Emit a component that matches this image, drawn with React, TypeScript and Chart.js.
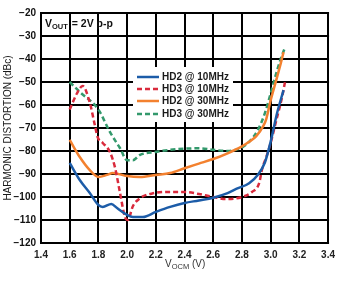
import React, { useEffect, useRef } from "react";
import { Chart, registerables } from "chart.js";

Chart.register(...registerables);

const xTickStep = 0.2;
const yTickStep = 10;

const seriesNames = ["HD2 @ 10MHz", "HD3 @ 10MHz", "HD2 @ 30MHz", "HD3 @ 30MHz"];

const hd2_10_x = [1.6, 1.67, 1.74, 1.8, 1.83, 1.89, 1.93, 2.0, 2.04, 2.11, 2.2, 2.3, 2.4, 2.5, 2.6, 2.7, 2.76, 2.85, 2.91, 2.96, 3.0, 3.045, 3.09];
const hd2_10_y = [-85.2, -92.6, -98.3, -103.5, -104.3, -103, -104.8, -107.8, -108.7, -108.7, -106.5, -104.3, -102.6, -101.5, -100.3, -98.3, -96.5, -94, -90.4, -85, -76, -63.5, -53.5];

const hd3_10_x = [1.6, 1.65, 1.69, 1.74, 1.775, 1.795, 1.83, 1.88, 1.915, 1.95, 1.985, 2.005, 2.04, 2.09, 2.18, 2.3, 2.4, 2.5, 2.6, 2.69, 2.8, 2.87, 2.92, 2.94, 2.97, 3.0, 3.04, 3.08, 3.1];
const hd3_10_y = [-62, -55, -51.7, -59, -68.7, -74, -76.5, -80.4, -87, -98, -108.7, -110, -104, -100.5, -98.4, -97.8, -97.8, -98.7, -100, -100.9, -100, -97.8, -94, -88, -82.6, -76.5, -66.5, -56.5, -50];

const hd2_30_x = [1.6, 1.67, 1.74, 1.8, 1.86, 1.9, 2.0, 2.09, 2.2, 2.3, 2.4, 2.5, 2.6, 2.7, 2.8, 2.85, 2.9, 2.95, 2.97, 3.0, 3.04, 3.07, 3.09];
const hd2_30_y = [-75.2, -82.6, -88.3, -91.3, -90.4, -89.6, -90.9, -91.3, -90.4, -89.6, -87.5, -85.5, -83.5, -81, -78, -76, -73.5, -69, -66, -58, -49, -42, -37];

const hd3_30_x = [1.6, 1.67, 1.8, 1.88, 1.95, 2.0, 2.04, 2.09, 2.2, 2.3, 2.4, 2.5, 2.6, 2.7, 2.8, 2.85, 2.91, 2.96, 3.0, 3.04, 3.07, 3.1];
const hd3_30_y = [-50, -54.3, -62, -71.7, -78.7, -84, -84, -81.7, -80.4, -79.5, -79, -78.8, -79.5, -80, -78.5, -76, -71, -63.5, -55, -46, -40, -35];

const colors = ["#1c5ca8", "#d92a3c", "#f3812f", "#33996c"];
const dashes: number[][] = [[], [5, 3], [], [5, 3]];

function pts(xs: number[], ys: number[]) {
  return xs.map((x, i) => ({ x, y: ys[i] }));
}

const gridPlugin = {
  id: "gridlines",
  beforeDatasetsDraw(chart: any) {
    const ctx = chart.ctx as CanvasRenderingContext2D;
    const { left, right, top, bottom } = chart.chartArea;
    const xs = chart.scales.x;
    const ys = chart.scales.y;
    ctx.save();
    ctx.fillStyle = "#000";
    const xt: any[] = xs.ticks || [];
    const yt: any[] = ys.ticks || [];
    for (let i = 0; i < xt.length; i++) {
      const p = xs.getPixelForValue(xt[i].value);
      ctx.fillRect(Math.round(p) - 1, top - 1, 2, bottom - top + 2);
    }
    for (let i = 0; i < yt.length; i++) {
      const p = ys.getPixelForValue(yt[i].value);
      ctx.fillRect(left - 1, Math.round(p) - 1, right - left + 2, 2);
    }
    ctx.restore();
  },
};

const annotPlugin = {
  id: "annot",
  afterDraw(chart: any) {
    const ctx = chart.ctx as CanvasRenderingContext2D;
    const ff = "'Liberation Sans', Arial, sans-serif";
    ctx.save();
    ctx.fillStyle = "#111";
    ctx.textBaseline = "alphabetic";
    ctx.textAlign = "left";
    let x = 45;
    const by = 27;
    ctx.font = `bold 10.5px ${ff}`;
    ctx.fillText("V", x, by);
    x += ctx.measureText("V").width;
    ctx.font = `bold 7.5px ${ff}`;
    ctx.fillText("OUT", x, by + 2);
    x += ctx.measureText("OUT").width + 1;
    ctx.font = `bold 10.5px ${ff}`;
    ctx.fillText(" = 2V p-p", x, by);

    ctx.fillStyle = "#fff";
    ctx.fillRect(133, 67, 100, 55);
    const rows = [77, 89, 101, 114];
    ctx.font = `bold 10px ${ff}`;
    ctx.textBaseline = "middle";
    for (let i = 0; i < 4; i++) {
      ctx.strokeStyle = colors[i];
      ctx.lineWidth = 2.5;
      ctx.setLineDash(dashes[i]);
      ctx.beginPath();
      ctx.moveTo(137, rows[i]);
      ctx.lineTo(159, rows[i]);
      ctx.stroke();
      ctx.setLineDash([]);
      ctx.fillStyle = "#1a1a1a";
      ctx.fillText(seriesNames[i], 162, rows[i] + 0.5);
    }

    ctx.save();
    ctx.translate(8.5, 128);
    ctx.rotate(-Math.PI / 2);
    ctx.textAlign = "center";
    ctx.textBaseline = "middle";
    ctx.font = `10px ${ff}`;
    ctx.fillStyle = "#1a1a1a";
    ctx.fillText("HARMONIC DISTORTION (dBc)", 0, 0);
    ctx.restore();

    ctx.textBaseline = "alphabetic";
    ctx.textAlign = "left";
    ctx.fillStyle = "#333";
    let tx = 165;
    const ty = 267;
    ctx.font = `10px ${ff}`;
    ctx.fillText("V", tx, ty);
    tx += ctx.measureText("V").width;
    ctx.font = `7.5px ${ff}`;
    ctx.fillText("OCM", tx, ty + 2);
    tx += ctx.measureText("OCM").width;
    ctx.font = `10px ${ff}`;
    ctx.fillText(" (V)", tx, ty);
    ctx.restore();
  },
};

export default function App() {
  const ref = useRef<HTMLCanvasElement>(null);
  useEffect(() => {
    if (!ref.current) return;
    const xs = [hd2_10_x, hd3_10_x, hd2_30_x, hd3_30_x];
    const ys = [hd2_10_y, hd3_10_y, hd2_30_y, hd3_30_y];
    const chart = new Chart(ref.current, {
      type: "line",
      data: {
        datasets: seriesNames.map((name, i) => ({
          label: name,
          data: pts(xs[i], ys[i]),
          borderColor: colors[i],
          backgroundColor: colors[i],
          borderWidth: 2.5,
          borderDash: dashes[i],
          pointRadius: 0,
          cubicInterpolationMode: "monotone" as const,
          fill: false,
        })),
      },
      options: {
        responsive: false,
        animation: false,
        devicePixelRatio: 1,
        layout: { padding: { left: 0, top: 13, right: 12, bottom: 0 } },
        plugins: { legend: { display: false }, tooltip: { enabled: false } },
        scales: {
          x: {
            type: "linear",
            min: 1.4,
            max: 3.4,
            afterFit: (s: any) => { s.height = 38; },
            ticks: {
              stepSize: xTickStep,
              padding: 6,
              color: "#222",
              font: { family: "'Liberation Sans', Arial, sans-serif", size: 10, weight: "bold" },
              callback: (v: any) => Number(v).toFixed(1),
              maxRotation: 0,
              autoSkip: false,
            },
            grid: { display: false, drawTicks: false },
            border: { display: false },
          },
          y: {
            type: "linear",
            min: -120,
            max: -20,
            afterFit: (s: any) => { s.width = 41; },
            ticks: {
              stepSize: yTickStep,
              padding: 5,
              color: "#111",
              font: { family: "'Liberation Sans', Arial, sans-serif", size: 10, weight: "bold" },
              callback: (v: any) => (Number(v) < 0 ? "\u2212" + Math.abs(Number(v)) : String(v)),
              autoSkip: false,
            },
            grid: { display: false, drawTicks: false },
            border: { display: false },
          },
        },
      },
      plugins: [gridPlugin, annotPlugin],
    });
    return () => chart.destroy();
  }, []);
  return (
    <div style={{ position: "absolute", left: 0, top: 0, width: 341, height: 281, background: "#fff" }}>
      <canvas ref={ref} width={341} height={281} style={{ width: 341, height: 281, display: "block" }} />
    </div>
  );
}
